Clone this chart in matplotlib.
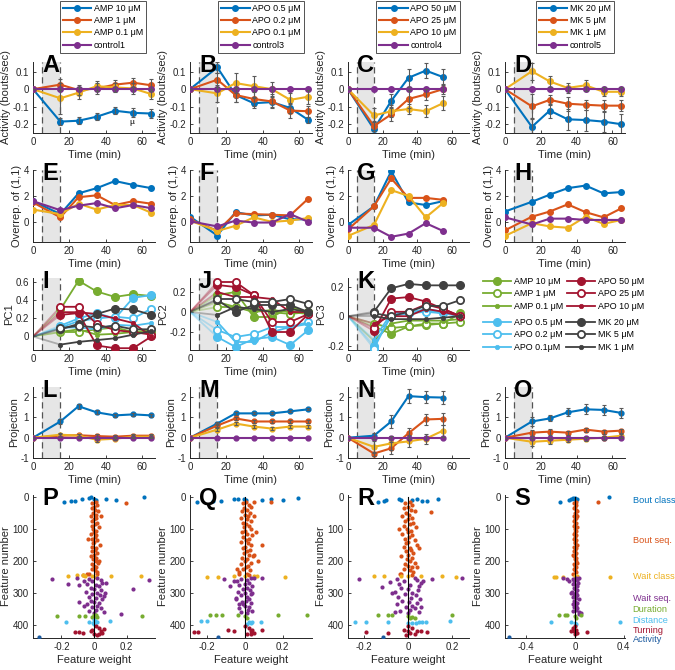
import numpy as np
import matplotlib
matplotlib.use("Agg")
import matplotlib.pyplot as plt
from matplotlib.lines import Line2D
from matplotlib.ticker import FuncFormatter

plt.rcParams['font.family'] = ['Liberation Sans', 'DejaVu Sans']
plt.rcParams['axes.unicode_minus'] = False

# matlab default colours
BLUE = '#0072BD'
ORANGE = '#D95319'
YELLOW = '#EDB120'
PURPLE = '#7E2F8E'
GREEN = '#77AC30'
CYAN = '#4DBEEE'
DRED = '#A2142F'
DGREY = '#404040'
ACT_BLUE = '#1C5A9E'

t_full = [0, 15, 25, 35, 45, 55, 65]
t_short = [0, 15, 25, 35, 45, 55]

# ---- activity (A-D)
leg_A = ['AMP 10 \u03bcM', 'AMP 1 \u03bcM', 'AMP 0.1 \u03bcM', 'control1']
act_A_hi = [0, -0.185, -0.18, -0.157, -0.123, -0.135, -0.139]
act_A_mid = [0, 0.026, -0.005, 0.004, 0.026, 0.037, 0.022]
act_A_lo = [0, -0.052, -0.02, 0.017, 0.01, 0.004, -0.028]
act_A_ctl = [0, 0, 0, 0, 0, 0, 0]
err_A_hi = [0, 0.02, 0.02, 0.02, 0.02, 0.025, 0.025]
err_A_mid = [0, 0.03, 0.03, 0.03, 0.025, 0.025, 0.035]
err_A_lo = [0, 0.09, 0.035, 0.03, 0.025, 0.03, 0.03]

leg_B = ['APO 0.5 \u03bcM', 'APO 0.2 \u03bcM', 'APO 0.1 \u03bcM', 'control3']
act_B_hi = [0, 0.124, -0.033, -0.08, -0.074, -0.107, -0.176]
act_B_mid = [0, 0.054, -0.033, -0.056, -0.07, -0.122, -0.126]
act_B_lo = [0, -0.024, 0.035, 0.017, 0.0, -0.061, -0.043]
act_B_ctl = [0, 0, 0, 0, 0, 0, 0]
err_B_hi = [0, 0.03, 0.04, 0.03, 0.03, 0.03, 0.015]
err_B_mid = [0, 0.04, 0.04, 0.04, 0.04, 0.04, 0.03]
err_B_lo = [0, 0.05, 0.055, 0.06, 0.04, 0.04, 0.04]

leg_C = ['APO 50 \u03bcM', 'APO 25 \u03bcM', 'APO 10 \u03bcM', 'control4']
act_C_hi = [0, -0.228, -0.067, 0.065, 0.106, 0.069]
act_C_mid = [0, -0.21, -0.144, -0.056, -0.03, 0.0]
act_C_lo = [0, -0.15, -0.126, -0.113, -0.126, -0.08]
act_C_ctl = [0, 0, 0, 0, 0, 0]
err_C_hi = [0, 0.04, 0.04, 0.05, 0.045, 0.045]
err_C_mid = [0, 0.03, 0.04, 0.05, 0.03, 0.03]
err_C_lo = [0, 0.04, 0.035, 0.03, 0.035, 0.04]

leg_D = ['MK 20 \u03bcM', 'MK 5 \u03bcM', 'MK 1 \u03bcM', 'control5']
act_D_hi = [0, -0.215, -0.122, -0.172, -0.176, -0.185, -0.2]
act_D_mid = [0, -0.098, -0.061, -0.083, -0.089, -0.094, -0.094]
act_D_lo = [0, 0.102, 0.044, 0.007, 0.022, -0.015, -0.015]
act_D_ctl = [0, 0, 0, 0, 0, 0, 0]
err_D_hi = [0, 0.05, 0.04, 0.06, 0.06, 0.06, 0.06]
err_D_mid = [0, 0.07, 0.03, 0.04, 0.03, 0.035, 0.03]
err_D_lo = [0, 0.05, 0.03, 0.03, 0.03, 0.025, 0.025]

# ---- over-representation of (1,1) (E-H)
ovr_E = [[1.6, 0.6, 2.2, 2.6, 3.15, 2.85, 2.6],
         [1.5, 0.35, 1.9, 2.05, 1.3, 1.6, 1.4],
         [0.95, 0.6, 1.4, 0.95, 1.3, 1.3, 0.7],
         [1.6, 0.9, 1.25, 1.45, 1.05, 1.3, 1.05]]
ovr_F = [[0.4, -1.05, 0.75, 0.5, 0.55, 0.2, 0.2],
         [0.2, -0.7, 0.65, 0.6, 0.55, 0.5, 1.8],
         [0.1, -0.7, -0.3, 0.35, 0.0, 0.1, 0.3],
         [0.05, -0.35, 0.1, -0.05, -0.05, 0.6, 0.0]]
ovr_G = [[-0.24, 1.2, 3.9, 1.5, 1.3, 1.6],
         [-0.58, 1.2, 3.35, 1.85, 1.85, 1.7],
         [-1.08, -0.24, 2.45, 2.0, 0.35, 1.45],
         [-0.45, -0.45, -1.15, -0.9, -0.1, -0.7]]
ovr_H = [[0.8, 1.55, 2.1, 2.6, 2.8, 2.2, 2.3],
         [-0.65, 0.4, 0.8, 1.35, 0.75, 0.35, 1.05],
         [-1.08, -0.1, -0.35, -0.45, 0.4, -0.15, 0.15],
         [0.35, -0.2, 0.25, 0.25, 0.15, 0.15, 0.15]]

# ---- principal components (I-K); order: AMP10, AMP1, AMP0.1, APO50, APO25, APO10,
#      APO0.5, APO0.2, APO0.1, MK20, MK5, MK1
pc_labels = ['AMP 10 \u03bcM', 'AMP 1 \u03bcM', 'AMP 0.1 \u03bcM',
             'APO 50 \u03bcM', 'APO 25 \u03bcM', 'APO 10 \u03bcM',
             'APO 0.5 \u03bcM', 'APO 0.2 \u03bcM', 'APO 0.1\u03bcM',
             'MK 20 \u03bcM', 'MK 5 \u03bcM', 'MK 1 \u03bcM']
pc1 = [[0, 0.30, 0.62, 0.50, 0.44, 0.47, 0.45],
       [0, 0.05, 0.05, 0.08, 0.10, 0.05, 0.05],
       [0, 0.05, 0.08, 0.02, 0.03, 0.05, 0.07],
       [0, 0.24, 0.26, -0.10, -0.13, -0.13, 0.0],
       [0, 0.33, 0.33, 0.14, 0.07, 0.05, 0.02],
       [0, 0.27, 0.27, 0.25, 0.20, 0.15, 0.0],
       [0, 0.12, 0.20, 0.26, 0.20, 0.43, 0.46],
       [0, 0.10, 0.17, 0.20, 0.22, 0.20, 0.31],
       [0, 0.10, 0.10, 0.08, 0.13, 0.12, 0.15],
       [0, 0.08, 0.14, 0.25, 0.31, 0.30, 0.24],
       [0, 0.09, 0.12, 0.10, 0.12, 0.08, 0.08],
       [0, -0.09, -0.06, -0.04, -0.02, 0.02, 0.06]]
pc2 = [[0, 0.17, 0.20, -0.05, -0.05, 0.05, 0.0],
       [0, 0.05, 0.05, 0.03, 0.0, -0.02, 0.0],
       [0, 0.10, 0.05, 0.0, 0.02, 0.0, -0.02],
       [0, 0.27, 0.25, 0.17, -0.20, -0.20, -0.02],
       [0, 0.30, 0.30, 0.17, -0.10, -0.10, -0.02],
       [0, 0.20, 0.15, 0.15, 0.13, 0.0, 0.0],
       [0, -0.25, -0.35, -0.27, -0.25, -0.33, -0.18],
       [0, -0.18, -0.25, -0.22, -0.15, -0.15, -0.10],
       [0, -0.10, -0.30, -0.30, -0.20, -0.15, -0.12],
       [0, 0.12, 0.0, 0.07, 0.07, 0.07, 0.0],
       [0, 0.13, 0.13, 0.10, 0.10, 0.13, 0.08],
       [0, -0.03, 0.05, 0.03, 0.0, 0.03, 0.0]]
pc3 = [[0, -0.07, -0.12, -0.07, -0.06, -0.05, 0.02],
       [0, -0.05, -0.08, -0.07, -0.05, -0.05, -0.04],
       [0, -0.17, -0.05, -0.03, -0.03, -0.03, -0.02],
       [0, -0.10, 0.12, 0.13, 0.10, 0.05, 0.0],
       [0, -0.08, 0.03, 0.03, 0.08, 0.05, 0.0],
       [0, -0.05, 0.0, 0.0, 0.05, 0.03, 0.0],
       [0, -0.20, 0.0, 0.02, 0.05, 0.03, 0.0],
       [0, -0.22, 0.01, 0.02, 0.03, 0.02, 0.0],
       [0, -0.16, 0.02, 0.03, 0.04, 0.02, 0.01],
       [0, 0.03, 0.19, 0.22, 0.21, 0.21, 0.21],
       [0, 0.02, 0.0, 0.03, 0.07, 0.07, 0.11],
       [0, 0.0, -0.02, -0.02, -0.02, -0.01, 0.0]]

# ---- projections (L-O)
proj_L = [[0, 0.8, 1.55, 1.25, 1.1, 1.15, 1.1],
          [0, 0.1, 0.12, 0.08, 0.05, 0.1, 0.1],
          [0, 0.15, 0.1, -0.1, -0.05, 0.05, 0.05],
          [0, 0, 0, 0, 0, 0, 0]]
perr_L = [[0, 0.1, 0.12, 0.1, 0.08, 0.08, 0.07],
          [0, 0.08, 0.08, 0.08, 0.06, 0.06, 0.06],
          [0, 0.1, 0.1, 0.1, 0.08, 0.08, 0.08]]
proj_M = [[0, 0.7, 1.2, 1.2, 1.2, 1.3, 1.4],
          [0, 0.6, 0.95, 0.8, 0.8, 0.8, 0.8],
          [0, 0.4, 0.7, 0.55, 0.45, 0.55, 0.55],
          [0, 0, 0, 0, 0, 0, 0]]
perr_M = [[0, 0.05, 0.06, 0.05, 0.05, 0.05, 0.05],
          [0, 0.07, 0.07, 0.07, 0.07, 0.07, 0.07],
          [0, 0.08, 0.08, 0.07, 0.07, 0.07, 0.07]]
proj_N = [[0, 0.1, 0.8, 2.05, 2.0, 1.98],
          [0, -0.78, -0.52, 0.22, 0.9, 0.93],
          [0, -0.45, -0.28, -0.18, -0.05, 0.35],
          [0, 0, 0, 0, 0, 0]]
perr_N = [[0, 0.15, 0.3, 0.35, 0.3, 0.3],
          [0, 0.1, 0.3, 0.25, 0.25, 0.3],
          [0, 0.3, 0.35, 0.3, 0.25, 0.3]]
proj_O = [[0, 0.8, 0.95, 1.25, 1.4, 1.37, 1.22],
          [0, 0.25, 0.3, 0.25, 0.4, 0.3, 0.35],
          [0, -0.2, -0.15, -0.1, -0.05, 0.0, 0.1],
          [0, 0, 0, 0, 0, 0, 0]]
perr_O = [[0, 0.2, 0.15, 0.2, 0.25, 0.25, 0.25],
          [0, 0.15, 0.15, 0.1, 0.1, 0.1, 0.1],
          [0, 0.2, 0.15, 0.1, 0.1, 0.1, 0.1]]

# ---- feature weights (P-S)
group_names = ['Bout class', 'Bout seq.', 'Wait class', 'Wait seq.',
               'Duration', 'Distance', 'Turning', 'Activity']
group_label_feat = [10, 135, 250, 318, 352, 386, 418, 446]
bs_feat = list(range(15, 245, 5))
ws_feat = list(range(252, 366, 4))

P_bc_f = [16, 14, 12, 6, 2, 1, 6, 9, 6, 9, 1]
P_bc_w = [-0.185, -0.143, -0.119, -0.072, -0.031, -0.016, 0.0, 0.015, 0.072, 0.138, 0.306]
P_bs_w = [0.01, -0.01, 0.02, 0.0, -0.015, 0.005, 0.025, -0.005, 0.01, -0.02, 0.015, 0.0,
          -0.01, 0.02, 0.005, -0.015, 0.03, -0.005, 0.01, 0.0, -0.02, 0.015, 0.005, -0.01,
          0.02, 0.0, -0.005, 0.035, -0.015, 0.01, 0.005, -0.01, 0.02, 0.0, -0.02, 0.015,
          -0.005, 0.01, 0.025, -0.01, 0.0, 0.015, -0.015, 0.005, 0.02, -0.03]
P_bsx_f = [18, 60, 130, 200, 240, 242, 243]
P_bsx_w = [0.195, 0.04, -0.035, 0.03, 0.02, -0.04, -0.07]
P_wc_f = [246, 245, 244, 246, 247, 249, 248, 247]
P_wc_w = [-0.16, -0.105, -0.068, -0.057, -0.01, 0.01, 0.107, 0.29]
P_ws_w = [0.02, -0.03, 0.04, -0.01, 0.05, -0.04, 0.01, 0.03, -0.02, 0.0, 0.045, -0.05,
          0.02, -0.01, 0.035, -0.03, 0.01, 0.05, -0.02, 0.0, 0.03, -0.04, 0.02, -0.01,
          0.04, 0.01, -0.03, 0.06, 0.0]
P_wsx_f = [256, 272, 252, 276, 327, 366, 287, 259, 262, 300, 268, 340, 310]
P_wsx_w = [-0.256, -0.16, -0.105, -0.09, -0.09, 0.168, 0.24, 0.337, -0.06, 0.07, 0.075, -0.06, 0.06]
P_du_f = [371, 371, 372, 368, 370, 374, 376, 378, 371]
P_du_w = [-0.23, -0.09, -0.057, 0.0, 0.01, -0.01, 0.02, 0.0, 0.298]
P_di_f = [391, 391, 389, 389, 386, 392, 395, 398, 390]
P_di_w = [-0.174, -0.03, 0.005, 0.097, 0.0, 0.01, -0.005, 0.0, 0.02]
P_tu_f = [423, 423, 424, 405, 410, 415, 420, 425, 430, 433, 418, 428, 412]
P_tu_w = [-0.119, -0.09, -0.067, 0.01, 0.03, -0.01, 0.04, 0.05, 0.0, 0.02, -0.02, 0.03, 0.06]
P_ac_f = [437]
P_ac_w = [-0.338]

Q_bc_f = [16, 14, 12, 6, 5, 6, 10, 9, 8, 10, 3]
Q_bc_w = [-0.255, -0.17, -0.126, -0.055, -0.035, -0.005, 0.005, 0.09, 0.14, 0.2, 0.28]
Q_bs_w = [0.005, -0.01, 0.02, 0.03, -0.005, 0.01, -0.015, 0.025, 0.0, 0.015, -0.02, 0.01,
          0.035, -0.01, 0.005, 0.02, -0.005, 0.03, 0.0, -0.015, 0.01, 0.04, -0.01, 0.02,
          0.005, -0.02, 0.015, 0.03, 0.0, -0.01, 0.025, 0.01, -0.005, 0.02, 0.045, -0.015,
          0.01, 0.0, 0.03, -0.02, 0.015, 0.005, -0.01, 0.025, -0.03, 0.01]
Q_bsx_f = [16, 16, 60, 110, 150, 180, 200, 225, 240, 243]
Q_bsx_w = [0.047, 0.14, 0.05, 0.06, 0.09, 0.05, 0.07, -0.04, -0.03, 0.02]
Q_wc_f = [250, 249, 247, 247, 247, 247, 250]
Q_wc_w = [-0.2, -0.14, -0.055, 0.0, 0.05, 0.065, 0.21]
Q_ws_w = [0.03, -0.02, 0.01, -0.04, 0.02, 0.0, -0.03, 0.04, 0.01, -0.01, 0.025, -0.035,
          0.0, 0.03, -0.02, 0.01, -0.045, 0.02, 0.005, -0.015, 0.035, -0.01, 0.0, 0.02,
          -0.03, 0.015, 0.04, -0.02, 0.01]
Q_wsx_f = [258, 262, 280, 253, 253, 319, 335, 300]
Q_wsx_w = [-0.11, -0.06, -0.08, 0.05, 0.09, -0.045, -0.03, 0.04]
Q_du_f = [369, 369, 369, 369, 368, 368, 372, 378]
Q_du_w = [-0.185, -0.15, -0.12, -0.035, 0.174, 0.33, 0.0, 0.01]
Q_di_f = [389, 389, 392, 391, 390, 395, 398]
Q_di_w = [-0.23, -0.2, 0.02, 0.04, 0.085, 0.03, 0.01]
Q_tu_f = [422, 422, 415, 420, 405, 410, 415, 420, 425, 430, 417, 428]
Q_tu_w = [-0.27, -0.25, -0.09, -0.06, 0.0, 0.02, 0.04, 0.03, 0.05, 0.01, 0.09, 0.03]
Q_ac_f = [437]
Q_ac_w = [-0.14]

R_bc_f = [16, 14, 10, 6, 9, 9, 6, 12, 12, 5]
R_bc_w = [-0.136, -0.107, -0.097, -0.041, -0.03, 0.018, 0.042, 0.063, 0.087, 0.136]
R_bs_w = [0.01, -0.015, 0.02, 0.0, -0.02, 0.015, 0.03, -0.01, 0.005, -0.025, 0.02, 0.0,
          -0.015, 0.025, 0.01, -0.02, 0.035, -0.005, 0.015, 0.0, -0.025, 0.02, 0.005, -0.015,
          0.03, 0.0, -0.01, 0.04, -0.02, 0.01, 0.015, -0.01, 0.025, 0.0, -0.03, 0.02,
          -0.005, 0.01, 0.03, -0.015, 0.0, 0.02, -0.02, 0.01, 0.025, -0.035]
R_bsx_f = [47, 100, 160, 220, 240, 243]
R_bsx_w = [0.104, -0.04, 0.05, 0.04, -0.03, 0.02]
R_wc_f = [247, 248, 246, 246, 247, 246, 249]
R_wc_w = [-0.151, -0.11, -0.03, 0.0, 0.06, 0.155, 0.217]
R_ws_w = [0.03, -0.05, 0.04, -0.02, 0.06, -0.04, 0.01, 0.05, -0.03, 0.0, 0.045, -0.06,
          0.02, -0.015, 0.035, -0.045, 0.015, 0.055, -0.025, 0.005, 0.04, -0.05, 0.02, -0.01,
          0.03, 0.01, -0.035, 0.05, 0.0]
R_wsx_f = [258, 282, 266, 361, 258, 252, 262, 300, 345]
R_wsx_w = [-0.22, -0.118, -0.08, -0.06, 0.11, 0.243, 0.07, -0.07, 0.06]
R_du_f = [368, 368, 370, 368, 372, 375, 378, 380]
R_du_w = [-0.136, -0.09, -0.07, 0.2, 0.0, 0.02, 0.03, 0.01]
R_di_f = [390, 390, 390, 395, 394, 393, 392, 391, 390, 389]
R_di_w = [-0.24, -0.19, -0.09, 0.0, 0.02, 0.035, 0.05, 0.065, 0.08, 0.19]
R_tu_f = [423, 424, 420, 420, 423, 405, 410, 415, 425, 430, 433, 418]
R_tu_w = [-0.19, -0.09, 0.04, 0.06, 0.086, 0.0, 0.02, -0.02, 0.01, 0.03, -0.01, 0.0]
R_ac_f = [437]
R_ac_w = [-0.113]

S_bc_f = [16, 9, 6, 2, 8, 4, 9, 5, 1]
S_bc_w = [-0.125, -0.05, -0.035, -0.015, -0.005, 0.0, 0.01, 0.02, 0.275]
S_bs_w = [0.005, -0.008, 0.01, 0.0, -0.01, 0.006, 0.012, -0.004, 0.004, -0.012, 0.008, 0.0,
          -0.006, 0.01, 0.002, -0.01, 0.015, -0.003, 0.006, 0.0, -0.012, 0.008, 0.003, -0.006,
          0.01, 0.0, -0.004, 0.016, -0.008, 0.005, 0.003, -0.006, 0.01, 0.0, -0.01, 0.008,
          -0.003, 0.005, 0.012, -0.006, 0.0, 0.008, -0.008, 0.003, 0.01, -0.015]
S_bsx_f = [16, 60, 180]
S_bsx_w = [0.186, 0.02, -0.02]
S_wc_f = [250, 250, 249, 246, 246, 251]
S_wc_w = [-0.175, -0.16, -0.1, 0.0, 0.02, 0.29]
S_ws_w = [0.01, -0.02, 0.02, -0.005, 0.025, -0.015, 0.005, 0.015, -0.01, 0.0, 0.02, -0.025,
          0.01, -0.005, 0.015, -0.02, 0.005, 0.03, -0.01, 0.0, 0.02, -0.015, 0.01, -0.005,
          0.02, 0.005, -0.015, 0.035, 0.045]
S_wsx_f = [255, 258, 262, 253, 365, 300]
S_wsx_w = [-0.1, -0.07, -0.05, 0.03, 0.035, -0.03]
S_du_f = [368, 369, 368, 368, 372, 378]
S_du_w = [-0.13, -0.085, -0.07, 0.05, 0.0, 0.01]
S_di_f = [392, 392, 390, 395, 398]
S_di_w = [-0.2, -0.03, 0.37, 0.0, 0.01]
S_tu_f = [422, 405, 410, 415, 420, 425, 430, 418]
S_tu_w = [0.1, 0.0, -0.02, 0.01, -0.03, 0.02, 0.0, -0.01]
S_ac_f = [437]
S_ac_w = [-0.54]

# ------------------------------------------------------------------ layout
W, H = 675, 670
COLS = [(33, 155), (190, 312), (348, 469), (505, 625)]
ROWS = [(62, 133), (170, 242), (278, 350), (387, 458), (495, 638)]
SER_COLORS = [BLUE, ORANGE, YELLOW, PURPLE]
TICK_FS = 7
LABEL_FS = 8
LEG_FS = 6.4

fig = plt.figure(figsize=(W / 100, H / 100), dpi=100)


def make_ax(row, col):
    l, r = COLS[col]
    t, b = ROWS[row]
    return fig.add_axes([l / W, 1 - b / H, (r - l) / W, (b - t) / H])


fmt = FuncFormatter(lambda v, p: f'{v:g}')


def style(ax, xlim, ylim, yticks, ylabel, xticks=(0, 20, 40, 60), xlabel='Time (min)'):
    ax.set_xlim(*xlim)
    ax.set_ylim(*ylim)
    ax.set_xticks(xticks)
    ax.set_yticks(yticks)
    ax.xaxis.set_major_formatter(fmt)
    ax.yaxis.set_major_formatter(fmt)
    for s in ('top', 'right'):
        ax.spines[s].set_visible(False)
    for s in ('left', 'bottom'):
        ax.spines[s].set_color('#262626')
        ax.spines[s].set_linewidth(0.7)
    ax.tick_params(direction='in', length=2.5, width=0.6, labelsize=TICK_FS,
                   colors='#262626', pad=3)
    ax.set_xlabel(xlabel, fontsize=LABEL_FS, labelpad=2, color='#262626')
    ax.set_ylabel(ylabel, fontsize=LABEL_FS, labelpad=1, color='#262626')


def shade(ax):
    ax.axvspan(5, 15, color='#e6e6e6', lw=0, zorder=0)
    for x in (5, 15):
        ax.axvline(x, color='#555555', ls=(0, (5, 3)), lw=0.9, zorder=1)


def letter(ax, s):
    ax.annotate(s, xy=(0, 1), xycoords='axes fraction', xytext=(6.5, -7.5),
                textcoords='offset points', fontsize=17, fontweight='bold',
                ha='left', va='baseline', zorder=20)


def series_panel(ax, t, ys, errs, ms=4):
    for i, (y, c) in enumerate(zip(ys, SER_COLORS)):
        ax.plot(t, y, color=c, lw=1.5, marker='o', ms=ms, mfc=c, mec=c, zorder=3 + i * 0.1)
    for e, y in zip(errs, ys):
        ax.errorbar(t, y, yerr=e, fmt='none', ecolor='#5a5a5a', elinewidth=0.8,
                    capsize=1.6, capthick=0.8, zorder=4)


def top_legend(labels, cx):
    handles = [Line2D([], [], color=c, lw=1.5, marker='o', ms=4) for c in SER_COLORS]
    leg = fig.legend(handles, labels, loc='upper center', bbox_to_anchor=(cx / W, 1 - 0.5 / H),
                     fontsize=LEG_FS, frameon=True, fancybox=False, edgecolor='#262626',
                     handlelength=3.2, handletextpad=0.3, labelspacing=0.38,
                     borderpad=0.35, borderaxespad=0)
    leg.get_frame().set_linewidth(0.7)


# ---- row 1 : activity
act_sets = [
    ([act_A_hi, act_A_mid, act_A_lo, act_A_ctl], [err_A_hi, err_A_mid, err_A_lo], t_full, leg_A, 'A', 103),
    ([act_B_hi, act_B_mid, act_B_lo, act_B_ctl], [err_B_hi, err_B_mid, err_B_lo], t_full, leg_B, 'B', 261),
    ([act_C_hi, act_C_mid, act_C_lo, act_C_ctl], [err_C_hi, err_C_mid, err_C_lo], t_short, leg_C, 'C', 418),
    ([act_D_hi, act_D_mid, act_D_lo, act_D_ctl], [err_D_hi, err_D_mid, err_D_lo], t_full, leg_D, 'D', 575),
]
for col, (ys, errs, t, labs, let, cx) in enumerate(act_sets):
    ax = make_ax(0, col)
    shade(ax)
    series_panel(ax, t, ys, errs)
    xl = (0, 70) if len(t) == 6 else (0, 67)
    style(ax, xl, (-0.25, 0.155), [-0.2, -0.1, 0, 0.1], 'Activity (bouts/sec)')
    letter(ax, let)
    top_legend(labs, cx)
    if let == 'A':
        ax.text(54, -0.19, '\u00b5', fontsize=6, ha='center', va='center')

# ---- row 2 : over-representation
for col, (ys, let) in enumerate([(ovr_E, 'E'), (ovr_F, 'F'), (ovr_G, 'G'), (ovr_H, 'H')]):
    ax = make_ax(1, col)
    shade(ax)
    t = t_short if len(ys[0]) == 6 else t_full
    for i, (y, c) in enumerate(zip(ys, SER_COLORS)):
        ax.plot(t, y, color=c, lw=1.5, marker='o', ms=4, mfc=c, mec=c, zorder=3 + i * 0.1)
    xl = (0, 70) if len(t) == 6 else (0, 67)
    style(ax, xl, (-1.55, 4), [0, 2, 4], 'Overrep. of (1,1)')
    letter(ax, let)

# ---- row 3 : PCs
pc_colors = [GREEN] * 3 + [DRED] * 3 + [CYAN] * 3 + [DGREY] * 3
pc_kinds = ['filled', 'open', 'small'] * 4
draw_order = [0, 1, 2, 6, 7, 8, 3, 4, 5, 9, 10, 11]


def pc_style(kind, c):
    if kind == 'filled':
        return dict(marker='o', ms=5.5, mfc=c, mec=c, mew=1.0)
    if kind == 'open':
        return dict(marker='o', ms=5.2, mfc='white', mec=c, mew=1.3)
    return dict(marker='o', ms=3.2, mfc=c, mec=c, mew=0.5)


pc_sets = [(pc1, 'I', 'PC1', (-0.15, 0.65), [0, 0.2, 0.4, 0.6]),
           (pc2, 'J', 'PC2', (-0.38, 0.34), [-0.2, 0, 0.2]),
           (pc3, 'K', 'PC3', (-0.23, 0.26), [-0.2, 0, 0.2])]
for col, (pcs, let, lab, yl, yt) in enumerate(pc_sets):
    ax = make_ax(2, col)
    shade(ax)
    for k in draw_order:
        y, c, kind = pcs[k], pc_colors[k], pc_kinds[k]
        ax.plot(t_full[:2], y[:2], color=c, lw=1.3, alpha=0.35, zorder=2)
        ax.plot(t_full[1:], y[1:], color=c, lw=1.3, zorder=3, **pc_style(kind, c))
    xl = (0, 70) if col == 2 else (0, 67)
    style(ax, xl, yl, yt, lab)
    letter(ax, let)

pc_handles = [Line2D([], [], color=c, lw=1.3, **pc_style(k, c)) for c, k in zip(pc_colors, pc_kinds)]
for idx, top in (([0, 1, 2, 3, 4, 5], 277), ([6, 7, 8, 9, 10, 11], 318)):
    fig.legend([pc_handles[i] for i in idx], [pc_labels[i] for i in idx], loc='upper left',
               bbox_to_anchor=(483 / W, 1 - top / H), ncol=2, frameon=False, fontsize=LEG_FS,
               handlelength=3.2, handletextpad=0.3, columnspacing=0.4, labelspacing=0.38,
               borderpad=0, borderaxespad=0)

# ---- row 4 : projections
proj_sets = [(proj_L, perr_L, 'L'), (proj_M, perr_M, 'M'), (proj_N, perr_N, 'N'), (proj_O, perr_O, 'O')]
for col, (ys, errs, let) in enumerate(proj_sets):
    ax = make_ax(3, col)
    shade(ax)
    t = t_short if len(ys[0]) == 6 else t_full
    series_panel(ax, t, ys, errs, ms=3.5)
    xl = (0, 70) if len(t) == 6 else (0, 67)
    style(ax, xl, (-1, 2.5), [-1, 0, 1, 2], 'Projection')
    letter(ax, let)

# ---- row 5 : feature weights
grp_colors = [BLUE, ORANGE, YELLOW, PURPLE, GREEN, CYAN, DRED, ACT_BLUE]
feat_sets = [
    ('P', (-0.375, 0.375), [-0.2, 0, 0.2],
     [(P_bc_w, P_bc_f), (P_bs_w, bs_feat), (P_bsx_w, P_bsx_f), (P_wc_w, P_wc_f), (P_ws_w, ws_feat),
      (P_wsx_w, P_wsx_f), (P_du_w, P_du_f), (P_di_w, P_di_f), (P_tu_w, P_tu_f), (P_ac_w, P_ac_f)]),
    ('Q', (-0.29, 0.355), [-0.2, 0, 0.2],
     [(Q_bc_w, Q_bc_f), (Q_bs_w, bs_feat), (Q_bsx_w, Q_bsx_f), (Q_wc_w, Q_wc_f), (Q_ws_w, ws_feat),
      (Q_wsx_w, Q_wsx_f), (Q_du_w, Q_du_f), (Q_di_w, Q_di_f), (Q_tu_w, Q_tu_f), (Q_ac_w, Q_ac_f)]),
    ('R', (-0.27, 0.275), [-0.2, 0, 0.2],
     [(R_bc_w, R_bc_f), (R_bs_w, bs_feat), (R_bsx_w, R_bsx_f), (R_wc_w, R_wc_f), (R_ws_w, ws_feat),
      (R_wsx_w, R_wsx_f), (R_du_w, R_du_f), (R_di_w, R_di_f), (R_tu_w, R_tu_f), (R_ac_w, R_ac_f)]),
    ('S', (-0.575, 0.41), [-0.4, 0, 0.4],
     [(S_bc_w, S_bc_f), (S_bs_w, bs_feat), (S_bsx_w, S_bsx_f), (S_wc_w, S_wc_f), (S_ws_w, ws_feat),
      (S_wsx_w, S_wsx_f), (S_du_w, S_du_f), (S_di_w, S_di_f), (S_tu_w, S_tu_f), (S_ac_w, S_ac_f)]),
]
set_colors = [BLUE, ORANGE, ORANGE, YELLOW, PURPLE, PURPLE, GREEN, CYAN, DRED, ACT_BLUE]
for col, (let, xl, xt, groups) in enumerate(feat_sets):
    ax = make_ax(4, col)
    for (w, f), c in zip(groups, set_colors):
        ax.scatter(w, f, s=9, color=c, lw=0, zorder=3)
    ax.plot([0, 0], [0, 437], color='black', lw=0.8, zorder=4)
    style(ax, xl, (441, -6), [0, 100, 200, 300, 400], 'Feature number',
          xticks=xt, xlabel='Feature weight')
    letter(ax, let)
    if let == 'S':
        for name, f, c in zip(group_names, group_label_feat, grp_colors):
            ax.annotate(name, xy=(1, f), xycoords=('axes fraction', 'data'),
                        xytext=(5.5, 0), textcoords='offset points', color=c,
                        fontsize=6.6, ha='left', va='center', annotation_clip=False)

fig.savefig('out.png', dpi=100)
